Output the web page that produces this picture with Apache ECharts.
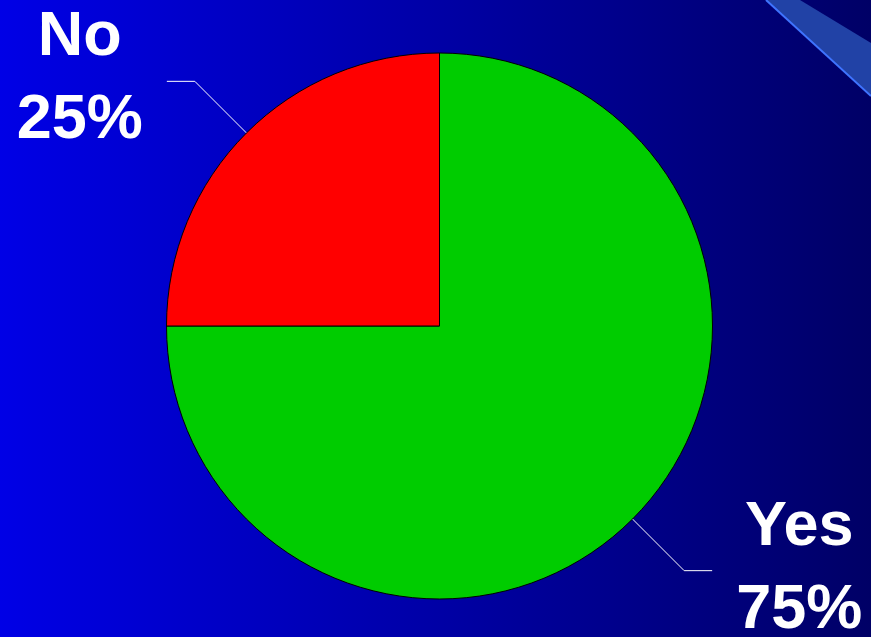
<!DOCTYPE html>
<html>
<head>
<meta charset="utf-8">
<script src="https://cdn.jsdelivr.net/npm/echarts@6/dist/echarts.min.js"></script>
<style>html,body{margin:0;padding:0;}#c{width:871px;height:637px;}</style>
</head>
<body>
<div id="c"></div>
<script>
const categories = ['Yes', 'No'];
const values = [75, 25];
const colors = ['#00CC00', '#FF0000'];

const chart = echarts.init(document.getElementById('c'), null, {renderer: 'canvas'});
chart.setOption({
  backgroundColor: new echarts.graphic.LinearGradient(0, 0, 1, 0, [
    {offset: 0, color: '#0000E6'},
    {offset: 1, color: '#000066'}
  ]),
  graphic: [
    {type: 'polygon', silent: true, shape: {points: [[766, 0], [800, 0], [871, 43], [871, 96]]}, style: {fill: '#2142A6'}},
    {type: 'line', silent: true, shape: {x1: 766, y1: 0, x2: 871, y2: 96}, style: {stroke: '#3F74FF', lineWidth: 2}}
  ],
  series: [{
    type: 'pie',
    center: [439.5, 326],
    radius: 273,
    startAngle: 90,
    clockwise: true,
    avoidLabelOverlap: false,
    animation: false,
    data: categories.map((c, i) => ({name: c, value: values[i], itemStyle: {color: colors[i]}})),
    itemStyle: {borderColor: '#000', borderWidth: 1},
    label: {
      show: true,
      position: 'outside',
      formatter: '{t|{b}}\n{t|{d}%}',
      overflow: 'none',
      distanceToLabelLine: 24,
      padding: [0, 0, 4, 0],
      rich: {
        t: {
          color: '#fff',
          fontFamily: 'Liberation Sans, Arial, sans-serif',
          fontWeight: 'bold',
          fontSize: 63,
          lineHeight: 83,
          align: 'center'
        }
      }
    },
    labelLine: {
      show: true,
      length: 73,
      length2: 28,
      lineStyle: {color: '#fff', width: 1}
    },
    emphasis: {disabled: true}
  }]
});
</script>
</body>
</html>
